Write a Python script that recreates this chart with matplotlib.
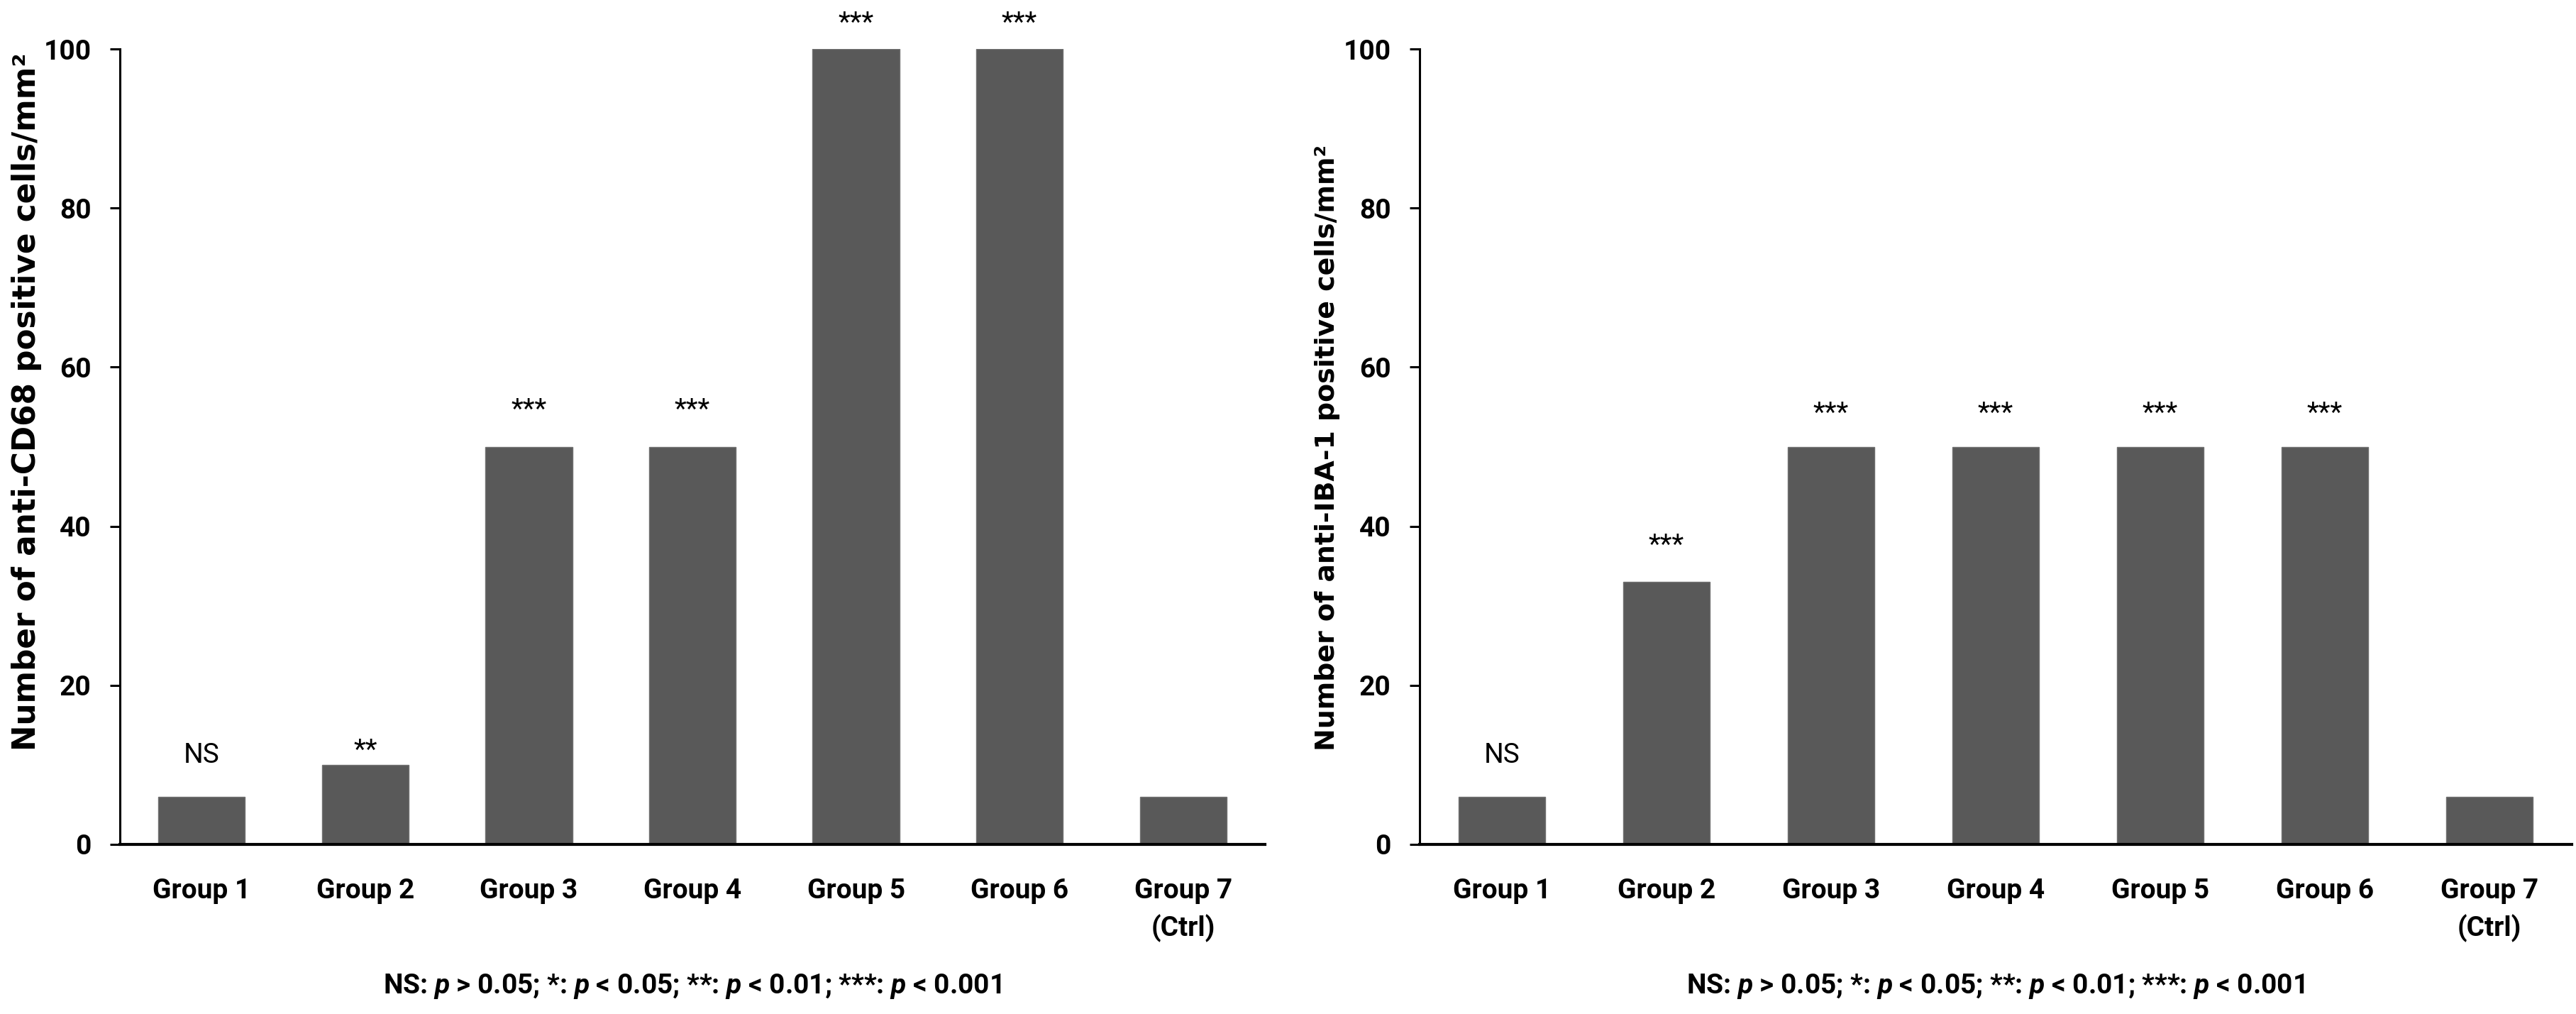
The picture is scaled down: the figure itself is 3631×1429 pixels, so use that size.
import matplotlib
matplotlib.use("Agg")
import matplotlib.pyplot as plt

# data
groups = ["Group 1", "Group 2", "Group 3", "Group 4", "Group 5", "Group 6", "Group 7\n(Ctrl)"]
cd68_values = [6, 10, 50, 50, 100, 100, 6]
iba1_values = [6, 33, 50, 50, 50, 50, 6]
cd68_marks = ["NS", "**", "***", "***", "***", "***", ""]
iba1_marks = ["NS", "***", "***", "***", "***", "***", ""]
# baseline height (data units) of each significance mark
cd68_mark_y = [10.3, 10.8, 53.6, 53.6, 102.2, 102.2, 0]
iba1_mark_y = [10.3, 36.6, 53.2, 53.2, 53.2, 53.2, 0]
y_ticks = [0, 20, 40, 60, 80, 100]
footnote = r"NS: $p$ > 0.05; *: $p$ < 0.05; **: $p$ < 0.01; ***: $p$ < 0.001"

FONT = ["Roboto", "DejaVu Sans"]
plt.rcParams["mathtext.fontset"] = "custom"
plt.rcParams["mathtext.it"] = "Roboto:italic:bold"
plt.rcParams["mathtext.rm"] = "Roboto:bold"

BAR_COLOR = "#595959"

fig = plt.figure(figsize=(36.31, 14.29), dpi=100)
W, H = 3631, 1429


def make_panel(rect, values, marks, mark_y, ylabel, label_x, label_size):
    ax = fig.add_axes(rect)
    x = list(range(len(values)))
    ax.bar(x, values, width=0.53, color=BAR_COLOR, edgecolor="#707070", linewidth=1, zorder=2)
    ax.set_xlim(-0.5, len(values) - 0.5)
    ax.set_ylim(0, 100)
    ax.set_yticks(y_ticks)
    ax.set_yticklabels([str(t) for t in y_ticks], family=FONT, fontweight="bold", fontsize=28)
    ax.set_xticks(x)
    ax.set_xticklabels(groups, family=FONT, fontweight="bold", fontsize=28, linespacing=1.45)
    ax.tick_params(axis="x", length=0, pad=34)
    ax.tick_params(axis="y", length=10, width=2.2, pad=19, direction="out")
    for s in ["top", "right"]:
        ax.spines[s].set_visible(False)
    ax.spines["left"].set_linewidth(2.2)
    ax.spines["bottom"].set_linewidth(3)
    ax.spines["bottom"].set_zorder(3)
    for xi, m, my in zip(x, marks, mark_y):
        if m:
            ax.text(xi, my, m, ha="center", va="baseline", family=FONT,
                    fontsize=28, clip_on=False)
    fig.text(label_x / W, 1 - 1058 / H, ylabel, rotation=90, ha="center", va="bottom",
             family="DejaVu Sans", fontweight="bold", fontsize=label_size)
    # footnote centred under the panel
    fig.text(rect[0] + rect[2] / 2, 1 - 1390 / H, footnote, ha="center", va="center",
             family=FONT, fontweight="bold", fontsize=28)
    return ax


bottom = 1 - 1190 / H
height = (1190 - 69) / H
make_panel([169 / W, bottom, (1783 - 169) / W, height], cd68_values, cd68_marks, cd68_mark_y,
           "Number of anti-CD68 positive cells/mm²", 38, 31.5)
make_panel([2001 / W, bottom, (3625 - 2001) / W, height], iba1_values, iba1_marks, iba1_mark_y,
           "Number of anti-IBA-1 positive cells/mm²", 1871, 27.3)

fig.savefig("out.png", dpi=100)
